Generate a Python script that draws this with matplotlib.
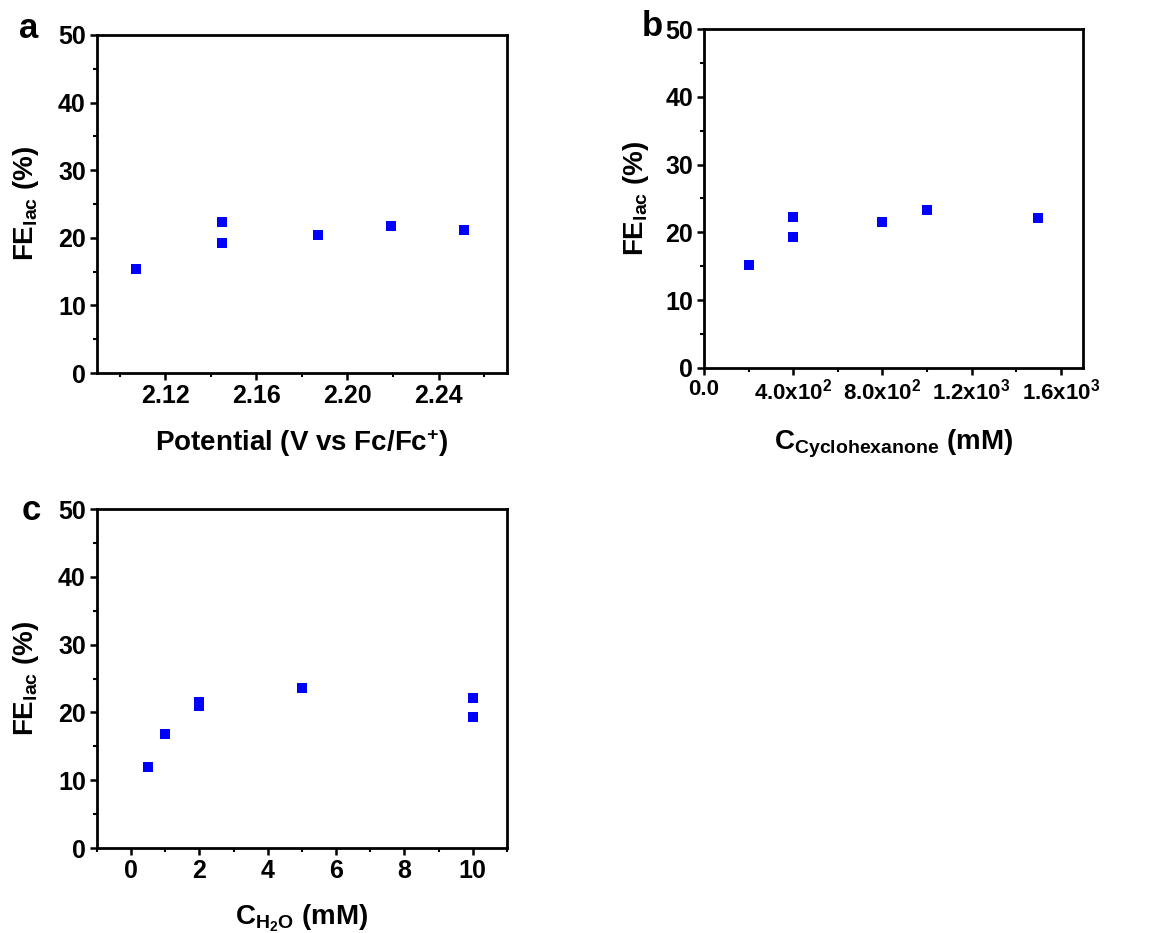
import matplotlib
matplotlib.use("Agg")
import matplotlib.pyplot as plt
from matplotlib.ticker import MultipleLocator, FixedLocator, FixedFormatter

plt.rcParams['font.family'] = ['Liberation Sans', 'DejaVu Sans']
plt.rcParams['font.weight'] = 'bold'
plt.rcParams['mathtext.fontset'] = 'custom'
plt.rcParams['mathtext.rm'] = 'Liberation Sans:bold'
plt.rcParams['mathtext.it'] = 'Liberation Sans:bold'
plt.rcParams['mathtext.bf'] = 'Liberation Sans:bold'
plt.rcParams['mathtext.default'] = 'rm'

# Panel a data
potential = [2.107, 2.145, 2.145, 2.187, 2.219, 2.251]
fe_a = [15.4, 22.3, 19.3, 20.4, 21.8, 21.2]
# Panel b data
c_cyclo = [200, 400, 400, 800, 1000, 1500]
fe_b = [15.2, 22.2, 19.3, 21.6, 23.3, 22.1]
# Panel c data
c_h2o = [0.5, 1, 2, 2, 5, 10, 10]
fe_c = [11.9, 16.8, 21.5, 20.9, 23.6, 22.2, 19.3]

a_xticks = [2.12, 2.16, 2.20, 2.24]
a_xlabels = ["2.12", "2.16", "2.20", "2.24"]
b_xticks = [0, 400, 800, 1200, 1600]
b_xlabels = ["0.0", r"4.0x10$^2$", r"8.0x10$^2$", r"1.2x10$^3$", r"1.6x10$^3$"]
c_xticks = [0, 2, 4, 6, 8, 10]

fig = plt.figure(figsize=(11.6, 9.33), dpi=100)

ax_a = fig.add_axes([0.0836, 0.6002, 0.3534, 0.3623])
ax_b = fig.add_axes([0.6069, 0.6056, 0.3267, 0.3633])
ax_c = fig.add_axes([0.0836, 0.0911, 0.3534, 0.3633])

ylabel = r"FE$_{\mathregular{lac}}$ (%)"

def style(ax, ypad):
    for s in ax.spines.values():
        s.set_linewidth(2.0)
    ax.set_ylim(0, 50)
    ax.yaxis.set_major_locator(MultipleLocator(10))
    ax.yaxis.set_minor_locator(MultipleLocator(5))
    ax.tick_params(which='major', direction='out', length=5, width=1.8, labelsize=18, pad=3)
    ax.tick_params(which='minor', direction='out', length=3, width=1.5)
    for lab in ax.get_xticklabels() + ax.get_yticklabels():
        lab.set_fontweight('bold')
    ax.set_ylabel(ylabel, fontsize=20, fontweight='bold', labelpad=ypad)

mk = dict(marker='s', color='#0000ff', s=45, linewidths=0, zorder=3)

ax_a.scatter(potential, fe_a, **mk)
ax_a.set_xlim(2.09, 2.27)
ax_a.xaxis.set_major_locator(FixedLocator(a_xticks))
ax_a.xaxis.set_major_formatter(FixedFormatter(a_xlabels))
ax_a.xaxis.set_minor_locator(MultipleLocator(0.02))
style(ax_a, 12)
ax_a.set_xlabel(r"Potential (V vs Fc/Fc$^{+}$)", fontsize=20, fontweight='bold', labelpad=14)

ax_b.scatter(c_cyclo, fe_b, **mk)
ax_b.set_xlim(0, 1700)
ax_b.xaxis.set_major_locator(FixedLocator(b_xticks))
ax_b.xaxis.set_major_formatter(FixedFormatter(b_xlabels))
ax_b.xaxis.set_minor_locator(MultipleLocator(200))
style(ax_b, 10)
ax_b.tick_params(axis='x', which='major', labelsize=16, pad=3)
ax_b.set_xlabel(r"C$_{\mathregular{Cyclohexanone}}$ (mM)", fontsize=20, fontweight='bold', labelpad=16)

ax_c.scatter(c_h2o, fe_c, **mk)
ax_c.set_xlim(-1, 11)
ax_c.xaxis.set_major_locator(FixedLocator(c_xticks))
ax_c.xaxis.set_minor_locator(MultipleLocator(1))
style(ax_c, 12)
ax_c.set_xlabel(r"C$_{\mathregular{H_2O}}$ (mM)", fontsize=20, fontweight='bold', labelpad=14)

fig.text(29 / 1160, 1 - 29 / 933, "a", fontsize=25, fontweight='bold', ha='center', va='center')
fig.text(652 / 1160, 1 - 27 / 933, "b", fontsize=25, fontweight='bold', ha='center', va='center')
fig.text(31 / 1160, 1 - 510 / 933, "c", fontsize=25, fontweight='bold', ha='center', va='center')

fig.savefig("out.png", dpi=100, facecolor='white')
